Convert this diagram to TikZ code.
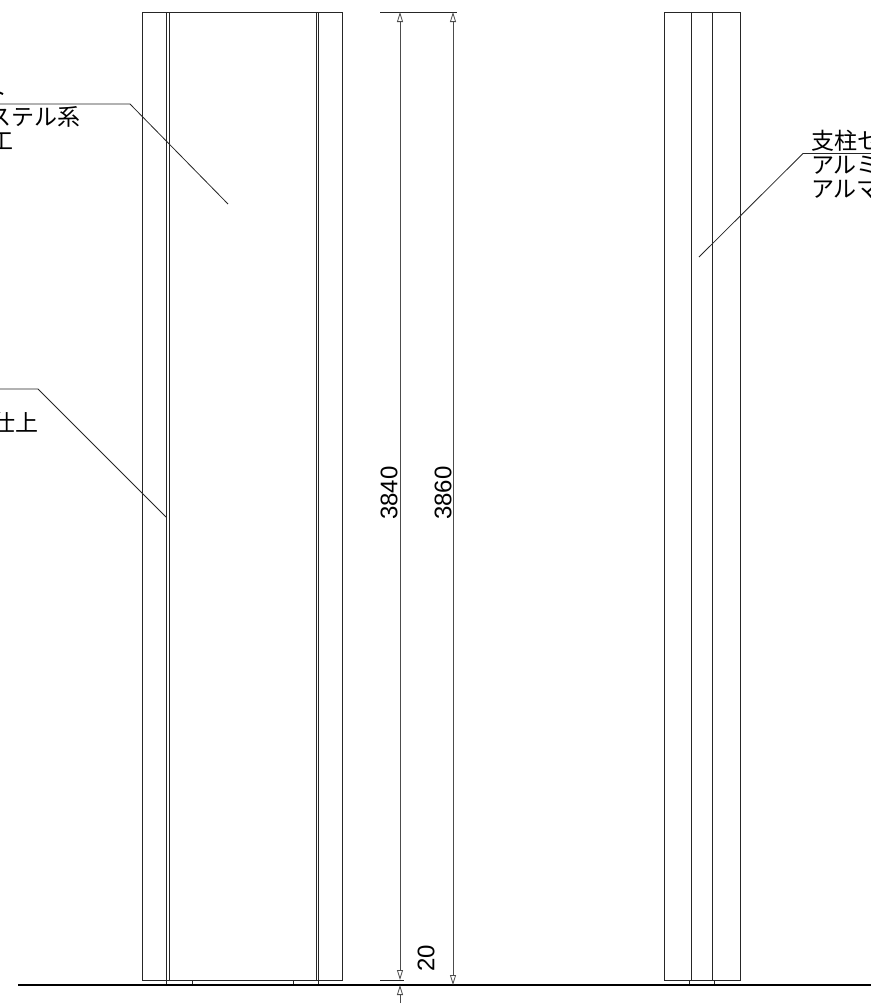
\documentclass[tikz,border=0pt]{standalone}
\usepackage{fontspec}
\setmainfont{Liberation Sans}
\newfontfamily\cjk{Noto Sans CJK JP}
\usetikzlibrary{arrows.meta, positioning}

\tikzset{
  panel/.style={line width=1pt, draw=black!85},
  leader/.style={line width=0.8pt, draw=black!85},
  dimline/.style={line width=0.8pt, draw=black!70, {Triangle[open,length=10pt,width=6pt]}-{Triangle[open,length=10pt,width=6pt]}},
  dimup/.style={line width=0.8pt, draw=black!70, -{Triangle[open,length=10pt,width=6pt]}},
  dimtext/.style={font=\fontsize{24}{24}\selectfont, rotate=90, inner sep=0pt},
  notetext/.style={font=\cjk\fontsize{23}{23}\selectfont, inner sep=0pt},
}

\begin{document}
\begin{tikzpicture}[x=1pt, y=-1pt]
\clip (0,0) rectangle (871,1005);

% left elevation
\draw[panel] (142,12) rectangle (342.5,980);
\draw[panel] (166.5,12) -- (166.5,985);
\draw[panel] (169,12) -- (169,980);
\draw[panel] (316,12) -- (316,980);
\draw[panel] (318,12) -- (318,985);
\draw[panel] (192,980) -- (192,985);
\draw[panel] (293,980) -- (293,985);

% right elevation
\draw[panel] (664,12) rectangle (740,980);
\draw[panel] (691.5,12) -- (691.5,980);
\draw[panel] (712,12) -- (712,980);
\draw[panel] (689.5,980) -- (689.5,985);
\draw[panel] (714,980) -- (714,985);

% ground
\draw[line width=1.5pt] (18,985) -- (871,985);

% dimensions
\coordinate (top1) at (400,12);
\coordinate (top2) at (453,12);
\coordinate (mid1) at (400,980);
\coordinate (bot1) at (400,985);
\coordinate (bot2) at (453,985);
\coordinate (low1) at (400,1003);
\draw[panel] (380,12) -- (457,12);
\draw[panel] (380,980) -- (404,980);
\draw[dimline] (top1) -- (mid1);
\draw[dimline] (top2) -- (bot2);
\draw[dimup] (low1) -- (bot1);
\node (d3840) [dimtext] at (389,493) {3840};
\node (d3860) [dimtext] at (443,493) {3860};
\node (d20) [dimtext] at (426,958) {20};

% notes
\node (sheet) [notetext, anchor=east] at (8,93) {ト};
\node (resin) [notetext, anchor=east] at (81,117) {ステル系};
\node (work) [notetext, anchor=east] at (14,141) {工};
\node (finish) [notetext, anchor=east] at (38.5,423) {仕上};
\node (post) [notetext, anchor=west] at (811,141) {支柱セ};
\node (alum) [notetext, anchor=west] at (811,165) {アルミ};
\node (anod) [notetext, anchor=west] at (811,189) {アルマ};

% leaders
\coordinate (a0) at (0,104);
\coordinate (a1) at (130,104);
\coordinate (a2) at (228,204);
\coordinate (b0) at (0,389);
\coordinate (b1) at (38,389);
\coordinate (b2) at (166,517);
\coordinate (c0) at (871,153.5);
\coordinate (c1) at (803,153.5);
\coordinate (c2) at (699,257);
\draw[leader] (a0) -- (a1) -- (a2);
\draw[leader] (b0) -- (b1) -- (b2);
\draw[leader] (c0) -- (c1) -- (c2);
\end{tikzpicture}
\end{document}
